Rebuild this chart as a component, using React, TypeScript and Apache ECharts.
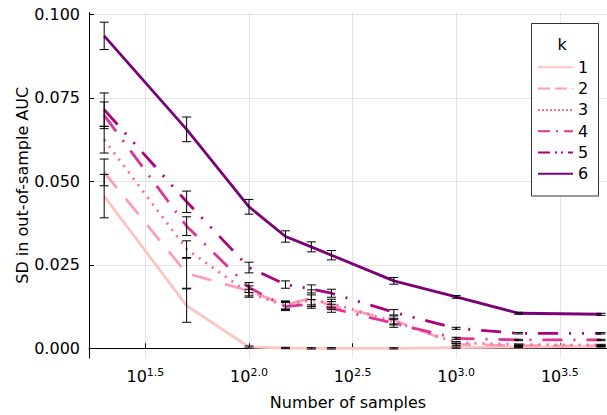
import React, { useEffect, useRef } from "react";
import * as echarts from "echarts";

// Sample sizes (x) and SD of out-of-sample AUC for each k, with error bar half-widths
const samples = [20, 50, 100, 150, 200, 250, 500, 1000, 2000, 5000];

const sd1 = [0.0456, 0.0128, 0.0004, 0.0001, 0.0000, 0.0000, 0.0000, 0.0002, 0.0004, 0.0006];
const sd2 = [0.0527, 0.0225, 0.0172, 0.0130, 0.0150, 0.0128, 0.0085, 0.0012, 0.0008, 0.0007];
const sd3 = [0.0625, 0.0297, 0.0165, 0.0128, 0.0145, 0.0135, 0.0080, 0.0017, 0.0011, 0.0010];
const sd4 = [0.0698, 0.0366, 0.0182, 0.0125, 0.0133, 0.0120, 0.0075, 0.0030, 0.0025, 0.0025];
const sd5 = [0.0715, 0.0439, 0.0242, 0.0191, 0.0178, 0.0165, 0.0108, 0.0060, 0.0045, 0.0045];
const sd6 = [0.0936, 0.0656, 0.0424, 0.0335, 0.0304, 0.0279, 0.0202, 0.0154, 0.0105, 0.0102];

const err1 = [0.0065, 0.0050, 0.0003, 0.0002, 0.0002, 0.0002, 0.0002, 0.0002, 0.0002, 0.0002];
const err2 = [0.0040, 0.0045, 0.0015, 0.0012, 0.0025, 0.0012, 0.0012, 0.0003, 0.0002, 0.0002];
const err3 = [0.0040, 0.0025, 0.0012, 0.0012, 0.0015, 0.0012, 0.0010, 0.0003, 0.0002, 0.0002];
const err4 = [0.0040, 0.0028, 0.0015, 0.0012, 0.0013, 0.0012, 0.0012, 0.0003, 0.0002, 0.0002];
const err5 = [0.0050, 0.0032, 0.0016, 0.0011, 0.0012, 0.0012, 0.0008, 0.0003, 0.0002, 0.0002];
const err6 = [0.0041, 0.0037, 0.0022, 0.0017, 0.0015, 0.0014, 0.0010, 0.0004, 0.0003, 0.0003];

const kNames = ["1", "2", "3", "4", "5", "6"];
const kColors = ["#fcc5c0", "#fa9fb5", "#f768a1", "#dd3497", "#ae017e", "#7a0177"];
const yTicks = [0, 0.025, 0.05, 0.075, 0.1];
const xTickExponents = [1.5, 2.0, 2.5, 3.0, 3.5];

const FONT = "DejaVu Sans";

export default function App() {
  const ref = useRef<HTMLDivElement>(null);

  useEffect(() => {
    if (!ref.current) return;
    const chart = echarts.init(ref.current, undefined, { renderer: "svg" });

    const sds = [sd1, sd2, sd3, sd4, sd5, sd6];
    const errs = [err1, err2, err3, err4, err5, err6];
    const plotDash: any[] = ["solid", [20, 14], [2, 6], [20, 11, 2, 11], [20, 11, 2, 11, 2, 11], "solid"];
    const legendDash: any[] = ["solid", [12, 5], [2, 2], [12, 6, 2, 6], [12, 5, 2, 4, 2, 5], "solid"];
    const xTicks = xTickExponents.map((e) => Math.pow(10, e));

    const lineSeries = kNames.map((name, k) => ({
      name,
      type: "line",
      data: samples.map((s, i) => [s, sds[k][i]]),
      symbol: "none",
      showSymbol: false,
      z: 2,
      lineStyle: { color: kColors[k], width: 2.8, type: plotDash[k] },
      itemStyle: { color: kColors[k] },
    }));

    const barData: number[][] = [];
    kNames.forEach((_, k) => {
      samples.forEach((s, i) => barData.push([s, sds[k][i], errs[k][i]]));
    });

    const errorSeries = {
      type: "custom",
      z: 3,
      data: barData,
      encode: { x: 0, y: 1 },
      renderItem: (params: any, api: any) => {
        const x = api.value(0);
        const y = api.value(1);
        const e = api.value(2);
        const top = api.coord([x, y + e]);
        const bot = api.coord([x, y - e]);
        const w = 4.5;
        const style = { stroke: "#000", lineWidth: 1 };
        return {
          type: "group",
          children: [
            { type: "line", shape: { x1: top[0], y1: top[1], x2: bot[0], y2: bot[1] }, style },
            { type: "line", shape: { x1: top[0] - w, y1: top[1], x2: top[0] + w, y2: top[1] }, style },
            { type: "line", shape: { x1: bot[0] - w, y1: bot[1], x2: bot[0] + w, y2: bot[1] }, style },
          ],
        };
      },
    };

    chart.setOption({
      animation: false,
      textStyle: { fontFamily: FONT },
      grid: { left: 89, right: 0, top: 12.5, bottom: 56 },
      xAxis: {
        type: "log",
        min: Math.pow(10, 1.2278),
        max: Math.pow(10, 3.7278),
        name: "Number of samples",
        nameLocation: "middle",
        nameGap: 36,
        nameMoveOverlap: false,
        nameTextStyle: { fontFamily: FONT, fontSize: 16, color: "#000" },
        axisLine: { lineStyle: { color: "#000", width: 1 } },
        axisTick: { inside: true, length: 5, customValues: xTicks, lineStyle: { color: "#000" } },
        splitLine: { show: true, lineStyle: { color: "rgba(0,0,0,0.1)", width: 1 } },
        minorTick: { show: false },
        axisLabel: {
          customValues: xTicks,
          margin: 9,
          formatter: (v: number) => `{b|10}{s|${Math.log10(v).toFixed(1)}}`,
          rich: {
            b: { fontFamily: FONT, fontSize: 16, color: "#000" },
            s: { fontFamily: FONT, fontSize: 11, color: "#000", padding: [0, 0, 8, 0] },
          },
        },
      },
      yAxis: {
        type: "value",
        min: -0.0029,
        max: 0.1006,
        name: "SD in out-of-sample AUC",
        nameLocation: "middle",
        nameGap: 59,
        nameMoveOverlap: false,
        nameTextStyle: { fontFamily: FONT, fontSize: 16, color: "#000" },
        axisLine: { show: true, lineStyle: { color: "#000", width: 1 } },
        axisTick: { show: true, inside: true, length: 5, customValues: yTicks, lineStyle: { color: "#000" } },
        splitLine: { show: true, lineStyle: { color: "rgba(0,0,0,0.1)", width: 1 } },
        axisLabel: {
          customValues: yTicks,
          margin: 9,
          fontFamily: FONT,
          fontSize: 16,
          color: "#000",
          formatter: (v: number) => v.toFixed(3),
        },
      },
      legend: {
        orient: "vertical",
        left: 537,
        top: 59.3,
        padding: 0,
        itemWidth: 35,
        itemHeight: 16,
        itemGap: 5.3,
        z: 6,
        textStyle: { fontFamily: FONT, fontSize: 16, color: "#000", lineHeight: 16 },
        data: kNames.map((name, k) => ({
          name,
          itemStyle: { opacity: 0 },
          lineStyle: { width: 2, type: legendDash[k], color: kColors[k], opacity: 1 },
        })),
      },
      graphic: [
        {
          type: "rect",
          z: 5,
          shape: { x: 531.5, y: 23.5, width: 67, height: 172.5 },
          style: { fill: "#fff", stroke: "#333", lineWidth: 1 },
        },
        {
          type: "text",
          z: 6,
          x: 562,
          y: 44,
          style: {
            text: "k",
            fontFamily: FONT,
            fontSize: 16,
            fill: "#000",
            textAlign: "center",
            textVerticalAlign: "middle",
          },
        },
      ],
      series: [...lineSeries, errorSeries],
    });

    return () => chart.dispose();
  }, []);

  return (
    <div
      ref={ref}
      style={{ position: "fixed", left: 0, top: 0, width: 607, height: 415, background: "#fff" }}
    />
  );
}
